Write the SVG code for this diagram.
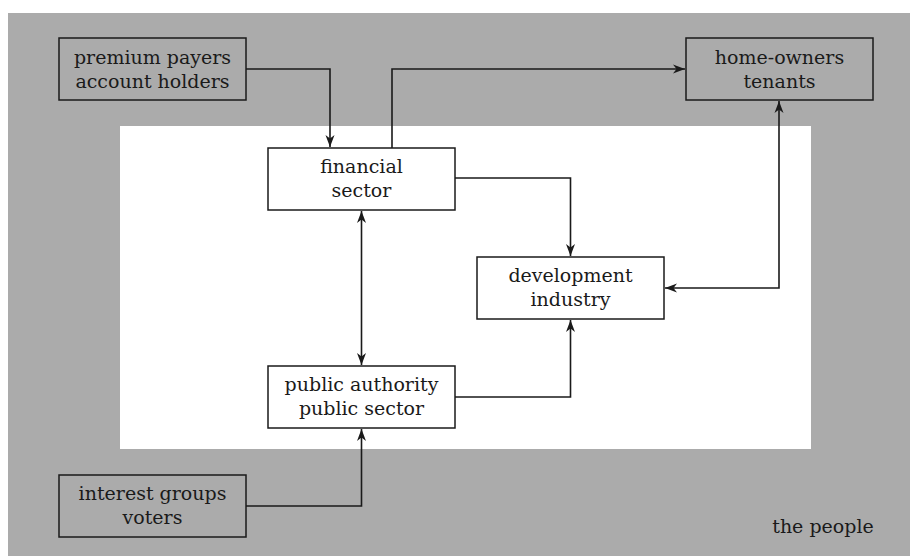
<svg xmlns="http://www.w3.org/2000/svg" width="910" height="556" viewBox="0 0 910 556">
<style>
.box{stroke:#1a1a1a;stroke-width:1.5}
.g{fill:#ababab}
.w{fill:#ffffff}
text{font-family:'DejaVu Serif','Liberation Serif',serif;font-size:19px;fill:#1a1a1a;text-anchor:middle}
.c{fill:none;stroke:#1a1a1a;stroke-width:1.6}
</style>
<defs>
<marker id="ah" markerUnits="userSpaceOnUse" markerWidth="16" markerHeight="12" viewBox="-13 -6 16 12" refX="0" refY="0" orient="auto-start-reverse">
<path d="M0,0 L-12,-4.5 L-8.5,0 L-12,4.5 Z" fill="#1a1a1a"/>
</marker>
</defs>
<rect x="8" y="13" width="902" height="543" class="g"/>
<rect x="120" y="126" width="691" height="323" class="w"/>
<g id="connectors">
<path class="c" d="M246,69 H330 V147" marker-end="url(#ah)"/>
<path class="c" d="M392,148 V69 H685" marker-end="url(#ah)"/>
<path class="c" d="M455,178 H570.5 V256" marker-end="url(#ah)"/>
<path class="c" d="M779,101 V288 H665" marker-start="url(#ah)" marker-end="url(#ah)"/>
<path class="c" d="M361.5,211 V365" marker-start="url(#ah)" marker-end="url(#ah)"/>
<path class="c" d="M455,397 H570.5 V320" marker-end="url(#ah)"/>
<path class="c" d="M246,506 H361.5 V429" marker-end="url(#ah)"/>
</g>
<g id="premium">
<rect x="59" y="38" width="187" height="62" class="box g"/>
<text x="152.5" y="64">premium payers</text>
<text x="152.5" y="88">account holders</text>
</g>
<g id="homeowners">
<rect x="686" y="38" width="187" height="62" class="box g"/>
<text x="779.5" y="64">home-owners</text>
<text x="779.5" y="88">tenants</text>
</g>
<g id="financial">
<rect x="268" y="148" width="187" height="62" class="box w"/>
<text x="361.5" y="173">financial</text>
<text x="361.5" y="197">sector</text>
</g>
<g id="development">
<rect x="477" y="257" width="187" height="62" class="box w"/>
<text x="570.5" y="282">development</text>
<text x="570.5" y="306">industry</text>
</g>
<g id="public">
<rect x="268" y="366" width="187" height="62" class="box w"/>
<text x="361.5" y="391">public authority</text>
<text x="361.5" y="415">public sector</text>
</g>
<g id="interest">
<rect x="59" y="475" width="187" height="62" class="box g"/>
<text x="152.5" y="500">interest groups</text>
<text x="152.5" y="524">voters</text>
</g>
<g id="people">
<text x="823" y="533">the people</text>
</g>
</svg>
